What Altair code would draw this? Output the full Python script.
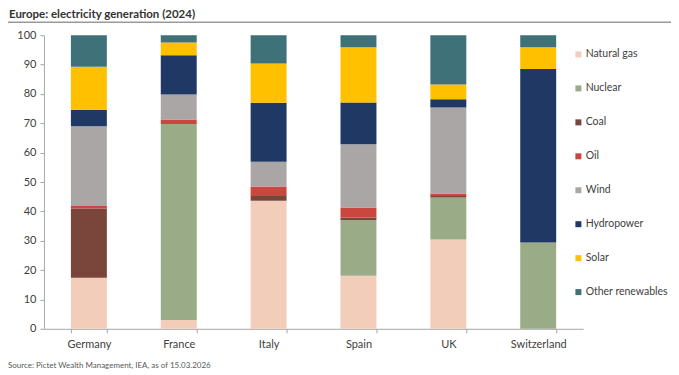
import altair as alt
import pandas as pd

countries = ["Germany", "France", "Italy", "Spain", "UK", "Switzerland"]
sources = ["Natural gas", "Nuclear", "Coal", "Oil", "Wind", "Hydropower", "Solar", "Other renewables"]
colors = ["#f2cdb9", "#9aab87", "#7a453a", "#c9473f", "#aba6a6", "#1f3864", "#ffc000", "#3f7278"]

natural_gas = [17.4, 3.0, 43.6, 18.1, 30.4, 0.0]
nuclear     = [0.0, 66.8, 0.0, 19.0, 14.3, 29.4]
coal        = [23.6, 0.0, 1.6, 0.8, 0.5, 0.0]
oil         = [0.8, 1.5, 3.3, 3.4, 0.9, 0.0]
wind        = [27.2, 8.5, 8.4, 21.6, 29.3, 0.0]
hydropower  = [5.6, 13.4, 20.1, 14.2, 2.8, 59.1]
solar       = [14.7, 4.3, 13.4, 18.8, 5.0, 7.4]
other       = [10.7, 2.5, 9.6, 4.1, 16.8, 4.1]

series = [natural_gas, nuclear, coal, oil, wind, hydropower, solar, other]

rows = []
for i, (src, vals) in enumerate(zip(sources, series)):
    for c, v in zip(countries, vals):
        rows.append({"country": c, "source": src, "value": v, "order": i})
df = pd.DataFrame(rows)

FONT = "Lato"
TXT = "#404040"

bars = alt.Chart(df).mark_bar().encode(
    x=alt.X("country:N", sort=countries, title=None,
            scale=alt.Scale(paddingInner=0.6, paddingOuter=0.3),
            axis=alt.Axis(labelAngle=0, tickBand="extent", domainColor="#a6a6a6",
                          tickColor="#a6a6a6", tickSize=4, labelPadding=6,
                          labelFontSize=11, labelColor=TXT, labelFont=FONT, grid=False)),
    y=alt.Y("value:Q", stack="zero", title=None,
            scale=alt.Scale(domain=[0, 100], nice=False),
            axis=alt.Axis(values=list(range(0, 101, 10)), domainColor="#a6a6a6",
                          tickColor="#a6a6a6", tickSize=4, labelPadding=4,
                          labelFontSize=11, labelColor=TXT, labelFont=FONT, grid=False)),
    color=alt.Color("source:N", sort=sources,
                    scale=alt.Scale(domain=sources, range=colors),
                    legend=alt.Legend(title=None, orient="none", legendX=530, legendY=14,
                                      symbolType="square", symbolSize=36, symbolStrokeWidth=0,
                                      labelFontSize=10.5, labelColor=TXT, labelFont=FONT,
                                      labelOffset=2, rowPadding=23, labelLimit=200)),
    order=alt.Order("order:Q", sort="ascending"),
)

title = alt.Chart(pd.DataFrame({"t": ["Europe: electricity generation (2024)"]})).mark_text(
    align="left", baseline="middle", font=FONT, fontSize=11.5, fontWeight="bold", color="#333333"
).encode(x=alt.value(-35), y=alt.value(-20), text="t:N")

rule = alt.Chart(pd.DataFrame({"a": [0]})).mark_rule(color="#9a9a9a", strokeWidth=1.3).encode(
    x=alt.value(-36), x2=alt.value(628), y=alt.value(-13))

source = alt.Chart(pd.DataFrame({"t": ["Source: Pictet Wealth Management, IEA,  as of 15.03.2026"]})).mark_text(
    align="left", baseline="middle", font=FONT, fontSize=8, color="#595959"
).encode(x=alt.value(-36), y=alt.value(331), text="t:N")

chart = alt.layer(bars, title, rule, source).properties(
    width=540, height=294,
    autosize=alt.AutoSizeParams(type="none"),
    padding={"left": 36, "top": 27, "right": 88, "bottom": 44},
).configure_view(stroke=None)

chart.save("out.html", embed_options={"renderer": "svg", "actions": False})
